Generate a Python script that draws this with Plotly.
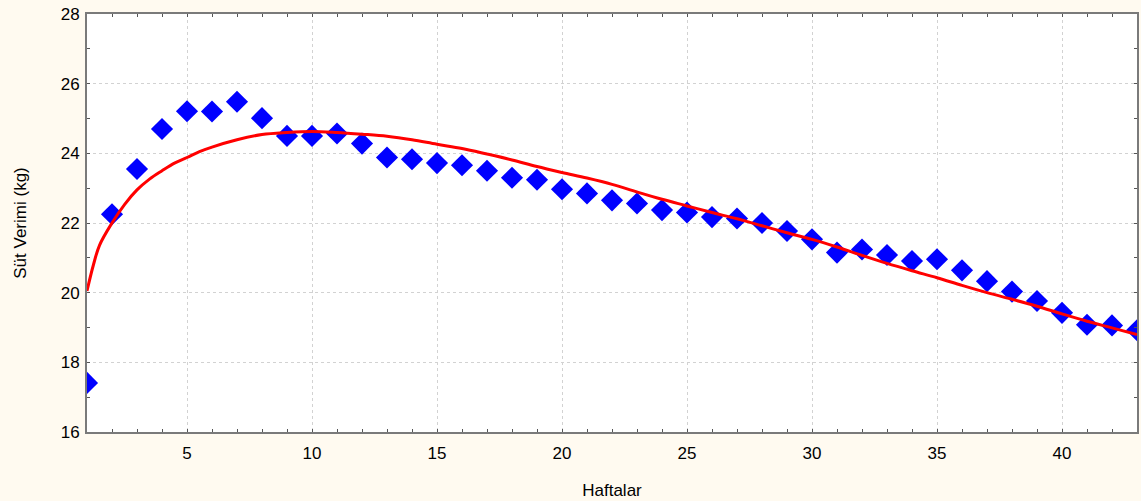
import plotly.graph_objects as go

weeks = list(range(1, 44))
milk_yield = [17.41, 22.25, 23.55, 24.70, 25.21, 25.20, 25.48, 25.01, 24.50, 24.50,
              24.57, 24.28, 23.88, 23.83, 23.72, 23.66, 23.50, 23.30, 23.24, 22.97,
              22.85, 22.65, 22.56, 22.37, 22.30, 22.17, 22.13, 22.00, 21.77, 21.53,
              21.15, 21.24, 21.08, 20.91, 20.96, 20.64, 20.33, 20.03, 19.76, 19.42,
              19.08, 19.06, 18.92]

curve_weeks = [1, 1.25, 1.5, 2, 2.5, 3, 3.5, 4, 4.5, 5, 5.5, 6, 7, 8, 9, 10, 11, 12,
               13, 14, 15, 16, 17, 18, 19, 20, 21, 22, 23, 24, 25, 26, 27, 28, 29,
               30, 31, 32, 33, 34, 35, 36, 37, 38, 39, 40, 41, 42, 43]
curve_yield = [20.05, 20.78, 21.36, 22.00, 22.53, 22.95, 23.26, 23.50, 23.72, 23.88,
               24.05, 24.18, 24.39, 24.54, 24.60, 24.63, 24.60, 24.55, 24.49, 24.39,
               24.26, 24.14, 23.98, 23.81, 23.62, 23.45, 23.29, 23.11, 22.89, 22.68,
               22.49, 22.30, 22.12, 21.92, 21.72, 21.53, 21.31, 21.07, 20.84, 20.63,
               20.43, 20.21, 20.00, 19.81, 19.61, 19.39, 19.18, 18.99, 18.80]

x_ticks = [5, 10, 15, 20, 25, 30, 35, 40]
y_ticks = [16, 18, 20, 22, 24, 26, 28]

FONT = "Liberation Sans, Arial, sans-serif"

fig = go.Figure()
fig.add_trace(go.Scatter(
    x=weeks, y=milk_yield, mode="markers",
    marker=dict(symbol="diamond", size=17, color="#0000FF", line=dict(width=0)),
    showlegend=False,
))
fig.add_trace(go.Scatter(
    x=curve_weeks, y=curve_yield, mode="lines",
    line=dict(color="#FF0000", width=3, shape="spline"),
    showlegend=False,
))

axis_common = dict(
    showline=True, linecolor="#7a7a7a", linewidth=2, mirror="ticks",
    ticks="inside", ticklen=3, tickcolor="#555555", tickwidth=1,
    showgrid=True, gridcolor="#d2d2d2", griddash="dot", gridwidth=1,
    zeroline=False,
    tickfont=dict(family=FONT, size=17, color="#000000"),
)

fig.update_xaxes(
    range=[1, 43], tickvals=x_ticks, ticklabelstandoff=5,
    minor=dict(dtick=1, tick0=0, ticks="inside", ticklen=3, tickcolor="#555555", showgrid=False),
    title=dict(text="Haftalar", standoff=22,
               font=dict(family=FONT, size=17, color="#000000")),
    **axis_common,
)
fig.update_yaxes(
    range=[16, 28], tickvals=y_ticks, ticklabelstandoff=2,
    minor=dict(dtick=1, tick0=0, ticks="inside", ticklen=3, tickcolor="#555555", showgrid=False),
    title=dict(text="Süt Verimi (kg)", standoff=30,
               font=dict(family=FONT, size=17, color="#000000")),
    **axis_common,
)

fig.update_layout(
    width=1141, height=501,
    margin=dict(l=87, r=4, t=14, b=69, autoexpand=False),
    paper_bgcolor="#FFFAF0",
    plot_bgcolor="#FFFFFF",
)

fig.write_html(
    "out.html",
    config={"displayModeBar": False},
    post_script="document.body.style.margin='0';document.body.style.overflow='hidden';",
)
